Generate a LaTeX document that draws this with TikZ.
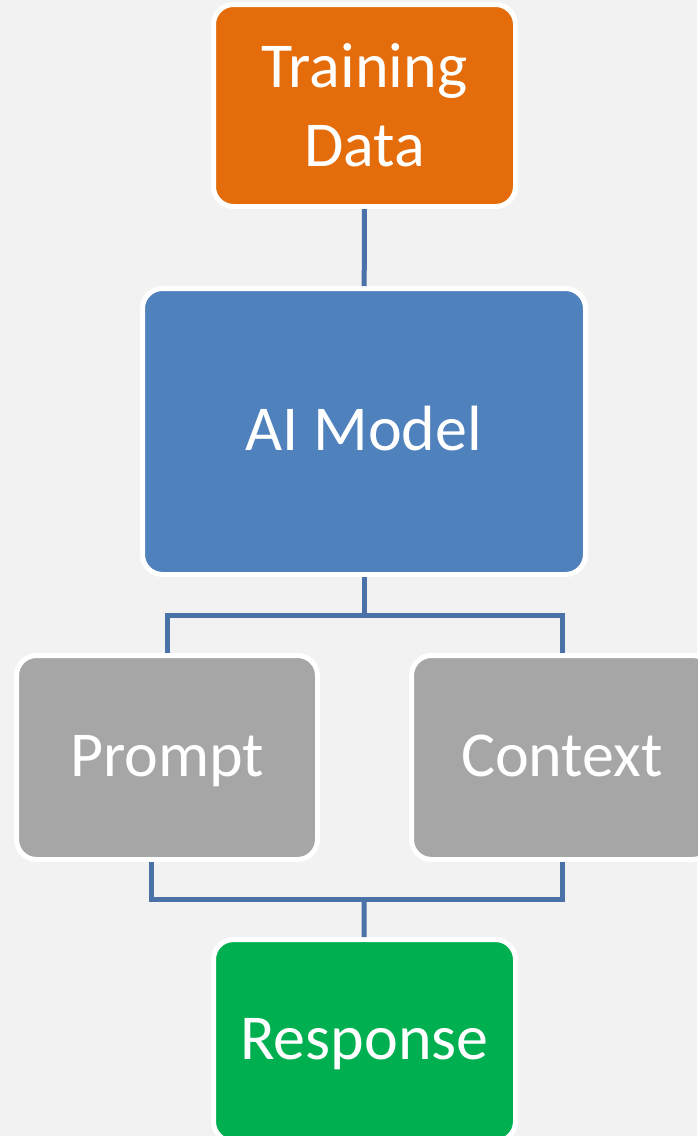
\documentclass[tikz,border=0pt]{standalone}
\usepackage{fontspec}
\setmainfont{Carlito}
\usetikzlibrary{positioning}
\definecolor{bgcol}{HTML}{F2F2F2}
\definecolor{datacol}{HTML}{E46C0A}
\definecolor{modelcol}{HTML}{4F81BD}
\definecolor{inputcol}{HTML}{A6A6A6}
\definecolor{outcol}{HTML}{00B050}
\definecolor{linkcol}{HTML}{4A72A8}
\tikzset{
	box/.style={draw=white, line width=5pt, rounded corners=20pt, text=white,
		align=center, inner sep=0pt, minimum width=302pt, minimum height=202pt,
		font=\fontsize{64}{79}\selectfont},
	oneline/.style={box, text height=52pt, text depth=14pt},
	link/.style={draw=linkcol, line width=5pt}
}

\begin{document}
\begin{tikzpicture}[x=1pt, y=-1pt]
	% canvas: 697 x 1136, y runs downwards
	\fill[bgcol] (0,0) rectangle (697,1136);
	\useasboundingbox (0,0) rectangle (697,1136);
	
	% boxes
	\node[box, fill=datacol] (data) at (364.5,105.5) {Training\\Data};
	\node[oneline, fill=modelcol, minimum width=443pt, minimum height=286pt] (model) at (364,431.5) {AI Model};
	\node[oneline, fill=inputcol, minimum width=301pt, minimum height=204pt] (prompt) at (167,757.5) {Prompt};
	\node[oneline, fill=inputcol, minimum width=301pt, minimum height=204pt] (context) at (562,757.5) {Context};
	\node[oneline, fill=outcol] (response) at (364.5,1040.5) {Response};
	
	% junction points
	\coordinate (split) at (364,615);
	\coordinate (merge) at (364,899);
	
	% connectors
	\draw[link] (data) -- (model);
	\draw[link] (model) -- (split);
	\draw[link] (split) -| (prompt);
	\draw[link] (split) -| (context);
	\draw[link] ([xshift=-16pt]prompt.south) |- (merge);
	\draw[link] (context) |- (merge);
	\draw[link] (merge) -- (response);
\end{tikzpicture}
\end{document}
